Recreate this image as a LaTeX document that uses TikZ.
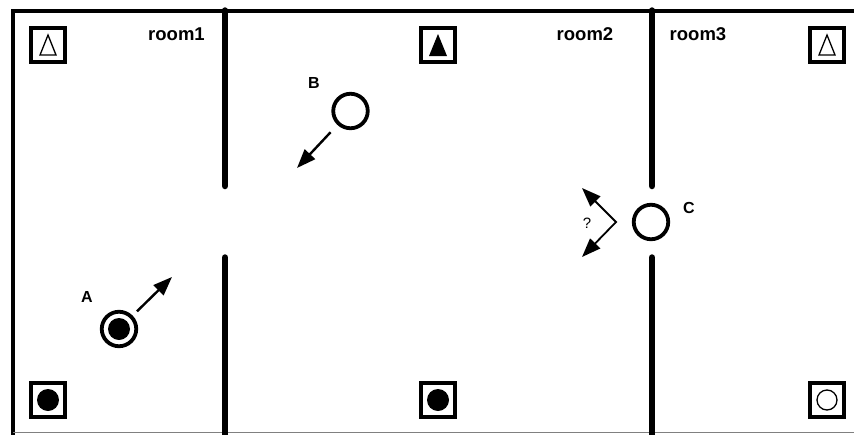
\documentclass[tikz,border=0pt]{standalone}
\usepackage{fontspec}
\setmainfont{Liberation Sans}
\usetikzlibrary{arrows.meta}

\begin{document}
\begin{tikzpicture}[
  x=1pt, y=-1pt,
  wall/.style={line width=6.5pt, line cap=round},
  sensor/.style={draw, line width=3.8pt, minimum size=34pt, inner sep=0pt},
  agent/.style={draw, circle, line width=3.8pt, minimum size=34.5pt, inner sep=0pt},
  blob/.style={circle, fill, inner sep=0pt, minimum size=#1},
  move/.style={line width=2.4pt, -{Triangle[length=19pt,width=14pt]}},
  roomlabel/.style={font=\fontsize{18.5}{20}\selectfont\bfseries},
  agentlabel/.style={font=\fontsize{16}{17}\selectfont\bfseries}
]
\useasboundingbox (0,0) rectangle (854,434);
\clip (0,0) rectangle (854,434);

% outer walls
\draw[line width=4pt] (880,10.5) -- (12.5,10.5) -- (12.5,450);
\draw[gray, line width=1.2pt] (12.5,432.5) -- (880,432.5);

% inner walls with doorways
\draw[wall] (225,10.5) -- (225,186);
\draw[wall] (225,257.5) -- (225,450);
\draw[wall] (652,10.5) -- (652,186);
\draw[wall] (652,257.5) -- (652,450);

\node[roomlabel] (room1) at (176.5,34.5) {room1};
\node[roomlabel] (room2) at (585,34.5) {room2};
\node[roomlabel] (room3) at (698,34.5) {room3};

% sensors
\node[sensor] (sensTL) at (48,45) {};
\node[sensor] (sensTM) at (438,45) {};
\node[sensor] (sensTR) at (827,45) {};
\node[sensor] (sensBL) at (48,400) {};
\node[sensor] (sensBM) at (438,400) {};
\node[sensor] (sensBR) at (827,400) {};
\draw[line width=1.3pt] (sensTL.center) ++(-8,10) -- ++(8,-20) -- ++(8,20) -- cycle;
\fill (sensTM.center) ++(-9,11) -- ++(9,-22) -- ++(9,22) -- cycle;
\draw[line width=1.3pt] (sensTR.center) ++(-8,10) -- ++(8,-20) -- ++(8,20) -- cycle;
\node[blob=22pt] (dotBL) at (sensBL) {};
\node[blob=22pt] (dotBM) at (sensBM) {};
\node[draw, circle, line width=1.3pt, inner sep=0pt, minimum size=20pt] (ringBR) at (sensBR) {};

% agents
\node[agent] (agentA) at (119,329) {};
\node[blob=22pt] (coreA) at (agentA) {};
\node[agent] (agentB) at (350.5,111) {};
\node[agent] (agentC) at (651,222) {};
\node[agentlabel] (labA) at (87,297) {A};
\node[agentlabel] (labB) at (314,83) {B};
\node[agentlabel] (labC) at (689,207.5) {C};
\node[font=\fontsize{15}{16}\selectfont] (labQ) at (587,223) {?};

\coordinate (headA) at (172,277);
\coordinate (headB) at (297,168);
\coordinate (turnC) at (616,222);
\coordinate (headCup) at (582,188);
\coordinate (headCdown) at (582,257);
\draw[move, shorten <=6pt] (agentA) -- (headA);
\draw[move, shorten <=10pt] (agentB) -- (headB);
\draw[line width=1.8pt, {Triangle[length=19pt,width=14pt]}-{Triangle[length=19pt,width=14pt]}] (headCup) -- (turnC) -- (headCdown);
\end{tikzpicture}
\end{document}
